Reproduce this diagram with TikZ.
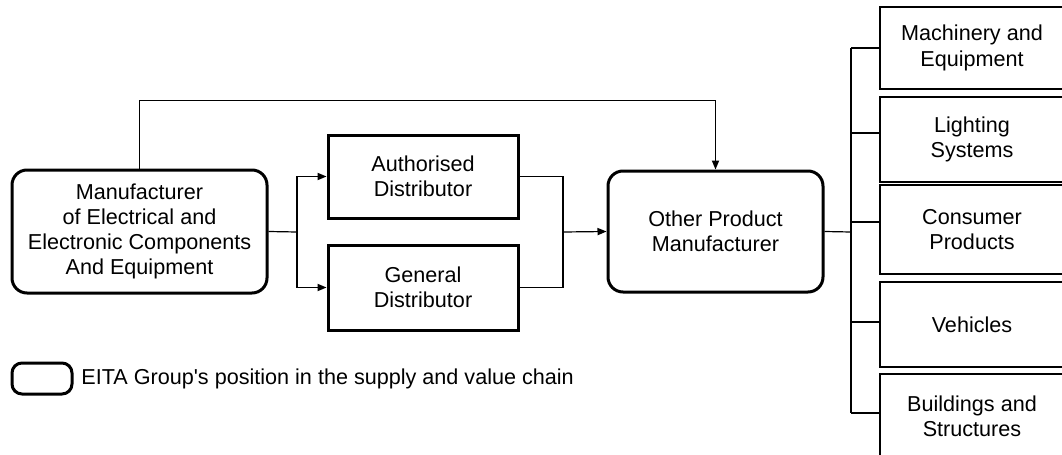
\documentclass[tikz,border=0pt]{standalone}
\usepackage{fontspec}
\setmainfont{Liberation Sans}
\usetikzlibrary{arrows.meta, positioning}
\tikzstyle{eita} = [rectangle, rounded corners=7.5pt, draw=black, line width=1.5pt, align=center, inner sep=0pt]
\tikzstyle{dist} = [rectangle, draw=black, line width=1.5pt, align=center, minimum width=95pt, inner sep=0pt]
\tikzstyle{sector} = [rectangle, draw=black, line width=0.6pt, align=center, minimum width=92pt, inner sep=0pt]
\tikzstyle{line} = [line width=0.6pt]
\tikzstyle{arrow} = [line width=0.6pt,-{Triangle[length=4.5pt,width=3.6pt]}]

\begin{document}
\begin{tikzpicture}[x=0.5pt, y=-0.5pt, font=\fontsize{10.8}{12.6}\selectfont]
    \useasboundingbox (0,0) rectangle (1062,455);
    \clip (0,0) rectangle (1062,455);

    % Main chain
    \node[eita, minimum width=127.5pt, minimum height=61.5pt] (mfr) at (139.5, 231.5) {Manufacturer\\of Electrical and\\Electronic Components\\And Equipment};
    \node[dist, minimum height=41.5pt] (auth) at (423, 176.5) {Authorised\\Distributor};
    \node[dist, minimum height=42.5pt] (gen) at (423, 287.5) {General\\Distributor};
    \node[eita, minimum width=107.5pt, minimum height=60.5pt] (opm) at (715.5, 231.5) {Other Product\\Manufacturer};

    % End sectors
    \node[sector, minimum height=41pt] (mach) at (972, 48) {Machinery and\\Equipment};
    \node[sector, minimum height=42.5pt] (light) at (972, 139.5) {Lighting\\Systems};
    \node[sector, minimum height=44.5pt] (cons) at (972, 229.5) {Consumer\\Products};
    \node[sector, minimum height=42.5pt] (veh) at (972, 324.5) {Vehicles};
    \node[sector, minimum height=42pt] (bldg) at (972, 416) {Buildings and\\Structures};

    % Legend
    \node[eita, rounded corners=5pt, minimum width=30pt, minimum height=15.5pt] (legbox) at (42, 378.5) {};
    \node[anchor=west, inner sep=0pt] (legtext) at (81, 379) {EITA Group\textquotesingle s position in the supply and value chain};

    % Junctions
    \coordinate (fork) at (297, 232);
    \coordinate (merge) at (563, 232);
    \coordinate (spine) at (851, 232);
    \coordinate (sp1) at (851, 48);
    \coordinate (sp2) at (851, 133);
    \coordinate (sp3) at (851, 222);
    \coordinate (sp4) at (851, 322);
    \coordinate (sp5) at (851, 413);

    % Arrows
    \draw[arrow] (mfr.north) -- ++(0,-68) -| (opm.north);
    \draw[line] (mfr.east) -- (fork);
    \draw[arrow] (fork) |- (auth.west);
    \draw[arrow] (fork) |- (gen.west);
    \draw[line] (auth.east) -| (merge);
    \draw[line] (gen.east) -| (merge);
    \draw[arrow] (merge) -- (opm.west);
    \draw[line] (opm.east) -- (spine);
    \draw[line] (sp1) -- (sp5);
    \draw[line] (sp1) -- (sp1 -| mach.west);
    \draw[line] (sp2) -- (sp2 -| light.west);
    \draw[line] (sp3) -- (sp3 -| cons.west);
    \draw[line] (sp4) -- (sp4 -| veh.west);
    \draw[line] (sp5) -- (sp5 -| bldg.west);
\end{tikzpicture}
\end{document}
